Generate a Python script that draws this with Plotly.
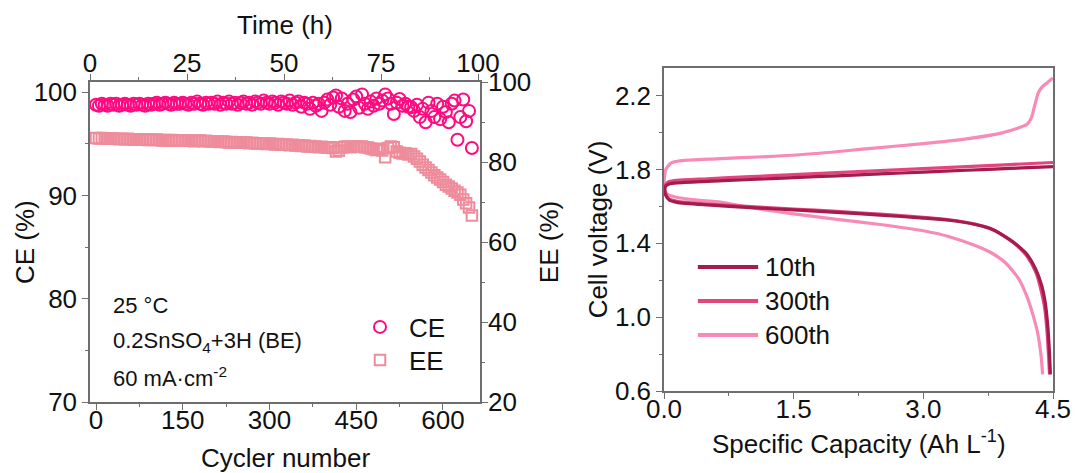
import plotly.graph_objects as go

# ---------------- Left panel: cycling efficiency ----------------
cycles = list(range(0, 655, 5))

ce_values = [
    98.8, 98.7, 98.9, 98.8, 98.7, 98.9, 98.8, 98.9, 98.7, 98.8,
    98.9, 98.8, 98.7, 98.9, 98.8, 98.9, 98.8, 98.7, 98.9, 98.8,
    98.9, 99.0, 98.8, 98.9, 99.0, 98.9, 98.8, 99.0, 98.9, 98.9,
    99.0, 98.9, 98.8, 99.0, 98.9, 99.1, 98.9, 98.8, 99.0, 98.9,
    99.0, 98.9, 99.1, 98.8, 99.0, 98.9, 99.1, 98.9, 99.0, 98.8,
    99.0, 99.1, 98.9, 99.0, 98.8, 99.1, 99.0, 98.9, 99.2, 99.0,
    98.9, 99.1, 99.0, 98.8, 99.1, 99.0, 98.9, 99.2, 98.8, 99.0,
    99.1, 98.6, 99.0, 98.9, 98.4, 99.0, 98.7, 98.9, 98.2, 99.0,
    99.3, 98.8, 99.5, 99.7, 98.6, 99.4, 98.2, 98.9, 98.1, 99.3,
    99.6, 98.5, 99.8, 98.9, 98.4, 99.1, 98.7, 99.4, 98.9, 99.2,
    99.8, 99.4, 98.9, 97.9, 99.0, 99.35, 98.7, 98.9, 98.6, 98.55,
    98.2, 98.8, 97.6, 98.4, 97.1, 99.0, 98.2, 97.6, 98.9, 97.4,
    98.6, 98.1, 97.1, 98.9, 99.2, 95.4, 97.6, 99.3, 97.2, 98.2,
    94.6,
]

ee_values = [
    86.0, 85.9, 86.0, 85.9, 85.8, 85.9, 85.8, 85.8, 85.7, 85.8,
    85.7, 85.8, 85.7, 85.6, 85.7, 85.6, 85.7, 85.6, 85.5, 85.6,
    85.5, 85.6, 85.5, 85.4, 85.5, 85.4, 85.5, 85.4, 85.3, 85.4,
    85.4, 85.3, 85.4, 85.3, 85.2, 85.3, 85.4, 85.2, 85.3, 85.2,
    85.1, 85.2, 85.1, 85.0, 85.1, 85.0, 84.9, 85.0, 84.9, 84.8,
    84.9, 84.8, 84.9, 84.7, 84.8, 84.7, 84.6, 84.7, 84.6, 84.5,
    84.6, 84.5, 84.4, 84.5, 84.3, 84.4, 84.3, 84.2, 84.3, 84.1,
    84.2, 84.0, 84.1, 83.9, 84.0, 83.8, 83.9, 83.7, 83.8, 83.7,
    83.6, 83.7, 83.5, 82.6, 82.9, 83.6, 83.8, 83.9, 83.7, 83.8,
    83.9, 83.8, 83.9, 83.7, 83.6, 83.4, 83.2, 83.0, 83.3, 82.9,
    81.2, 83.5, 83.9, 83.7, 82.6, 82.3, 82.1, 82.2, 81.9, 82.0,
    81.4, 80.8, 80.1, 79.3, 78.6, 78.0, 77.4, 76.7, 76.1, 75.6,
    75.0, 74.3, 73.9, 73.4, 72.8, 72.4, 71.8, 70.6, 69.7, 68.6,
    66.6,
]

cycle_ticks = [0, 150, 300, 450, 600]
time_ticks = [0, 25, 50, 75, 100]
ce_ticks = [70, 80, 90, 100]
ee_ticks = [20, 40, 60, 80, 100]

# ---------------- Right panel: charge / discharge profiles ----------------
cap_10_chg = [0.0, 0.02, 0.06, 0.15, 0.5, 1.0, 1.5, 2.0, 2.5, 3.0, 3.5, 4.0, 4.5]
v_10_chg = [1.68, 1.71, 1.722, 1.728, 1.736, 1.746, 1.756, 1.766, 1.776, 1.786, 1.796, 1.806, 1.816]
cap_10_dis = [0.0, 0.02, 0.06, 0.15, 0.5, 1.0, 1.5, 2.0, 2.5, 3.0, 3.3, 3.6, 3.8, 4.0,
              4.1, 4.2, 4.3, 4.37, 4.41, 4.44, 4.46, 4.47]
v_10_dis = [1.70, 1.66, 1.635, 1.622, 1.608, 1.594, 1.581, 1.568, 1.553, 1.537, 1.525, 1.502,
            1.475, 1.42, 1.385, 1.34, 1.26, 1.17, 1.08, 0.95, 0.80, 0.69]

cap_300_chg = [0.0, 0.02, 0.06, 0.15, 0.5, 1.0, 1.5, 2.0, 2.5, 3.0, 3.5, 4.0, 4.5]
v_300_chg = [1.69, 1.72, 1.735, 1.742, 1.750, 1.761, 1.772, 1.783, 1.794, 1.805, 1.816, 1.827, 1.838]
cap_300_dis = [0.0, 0.02, 0.06, 0.15, 0.5, 1.0, 1.5, 2.0, 2.5, 3.0, 3.3, 3.6, 3.8, 4.0,
               4.1, 4.2, 4.3, 4.36, 4.40, 4.43, 4.45, 4.46]
v_300_dis = [1.71, 1.67, 1.64, 1.628, 1.613, 1.599, 1.586, 1.573, 1.558, 1.541, 1.528, 1.504,
             1.475, 1.418, 1.38, 1.33, 1.245, 1.15, 1.06, 0.93, 0.78, 0.69]

cap_600_chg = [0.0, 0.02, 0.08, 0.2, 0.6, 1.2, 1.8, 2.4, 3.0, 3.5, 3.9, 4.1, 4.2, 4.25,
               4.29, 4.33, 4.37, 4.42, 4.47, 4.5]
v_600_chg = [1.72, 1.80, 1.835, 1.848, 1.858, 1.870, 1.888, 1.915, 1.940, 1.966, 1.997, 2.025,
             2.045, 2.08, 2.15, 2.215, 2.245, 2.265, 2.285, 2.295]
cap_600_dis = [0.0, 0.03, 0.1, 0.3, 0.7, 1.0, 1.5, 2.0, 2.5, 3.0, 3.3, 3.6, 3.8, 3.95,
               4.1, 4.2, 4.27, 4.32, 4.36, 4.38]
v_600_dis = [1.71, 1.67, 1.655, 1.638, 1.620, 1.594, 1.560, 1.530, 1.502, 1.468, 1.436, 1.388,
             1.345, 1.295, 1.21, 1.11, 1.01, 0.92, 0.80, 0.69]

cycle_labels = ["10th", "300th", "600th"]
cap_ticks = [0.0, 1.5, 3.0, 4.5]
volt_ticks = [0.6, 1.0, 1.4, 1.8, 2.2]

# ---------------- Styling ----------------
FONT = "Liberation Sans, Arial, Helvetica, sans-serif"
TXT = "#111111"
AX = "#6e6e6e"
CE_COLOR = "#ff0a80"
EE_COLOR = "#ef8c9b"
CURVE_COLORS = ["#a51b4e", "#e2467c", "#f78ab7"]
FS = 26
W, H = 1077, 473

fig = go.Figure()

fig.add_trace(go.Scatter(
    x=cycles, y=ce_values, name="CE", mode="markers",
    marker=dict(symbol="circle-open", size=12, color=CE_COLOR, line=dict(width=2, color=CE_COLOR)),
    xaxis="x", yaxis="y", legend="legend",
))
fig.add_trace(go.Scatter(
    x=cycles, y=ee_values, name="EE", mode="markers",
    marker=dict(symbol="square-open", size=10.5, color=EE_COLOR, line=dict(width=2, color=EE_COLOR)),
    xaxis="x", yaxis="y2", legend="legend2",
))
# carrier for the top time axis
fig.add_trace(go.Scatter(x=[], y=[], xaxis="x2", yaxis="y", showlegend=False, hoverinfo="skip"))

profiles = [
    (cap_10_chg, v_10_chg, cap_10_dis, v_10_dis),
    (cap_300_chg, v_300_chg, cap_300_dis, v_300_dis),
    (cap_600_chg, v_600_chg, cap_600_dis, v_600_dis),
]
# draw 600th first so the darker curves sit on top
for idx in [2, 1, 0]:
    c_chg, v_chg, c_dis, v_dis = profiles[idx]
    for cx, vy in [(c_chg, v_chg), (c_dis, v_dis)]:
        fig.add_trace(go.Scatter(
            x=cx, y=vy, mode="lines", name=cycle_labels[idx], showlegend=False,
            line=dict(color=CURVE_COLORS[idx], width=3.2, shape="spline", smoothing=0.6),
            xaxis="x3", yaxis="y3",
        ))

# legend for the voltage profiles, drawn inside the right panel
leg_y = [0.384, 0.279, 0.173]
for lbl, col, yy in zip(cycle_labels, CURVE_COLORS, leg_y):
    fig.add_shape(type="line", xref="x3 domain", yref="y3 domain",
                  x0=0.087, x1=0.242, y0=yy, y1=yy,
                  line=dict(color=col, width=4))
    fig.add_annotation(text=lbl, xref="x3 domain", yref="y3 domain", x=0.255, y=yy,
                       xanchor="left", yanchor="middle", showarrow=False,
                       font=dict(size=FS, color=TXT, family=FONT))

# condition notes in the left panel
notes = ["25 °C", "0.2SnSO<sub>4</sub>+3H (BE)", "60 mA·cm<sup>-2</sup>"]
note_y = [0.355, 0.277, 0.203]
for t, yy in zip(notes, note_y):
    fig.add_annotation(text=t, xref="paper", yref="paper", x=0.1035, y=yy,
                       xanchor="left", yanchor="middle", showarrow=False,
                       font=dict(size=22, color=TXT, family=FONT))

# axis titles placed explicitly
title_font = dict(size=FS, color=TXT, family=FONT)
fig.add_annotation(text="CE (%)", xref="paper", yref="paper", x=25 / W, y=1 - 242 / H,
                   xanchor="center", yanchor="middle", textangle=-90, showarrow=False,
                   font=title_font)
fig.add_annotation(text="Cycler number", xref="x domain", yref="paper", x=0.5, y=1 - 458 / H,
                   xanchor="center", yanchor="middle", showarrow=False, font=title_font)
fig.add_annotation(text="Specific Capacity (Ah L<sup>-1</sup>)", xref="x3 domain", yref="paper",
                   x=0.5, y=1 - 442 / H, xanchor="center", yanchor="middle", showarrow=False,
                   font=title_font)

tickfont = dict(size=FS, color=TXT, family=FONT)
axis_common = dict(showline=True, linecolor=AX, linewidth=1.5, ticks="outside",
                   ticklen=6, tickwidth=1.3, tickcolor=AX, showgrid=False,
                   zeroline=False, tickfont=tickfont, automargin=False)
minor_common = dict(ticks="outside", ticklen=3.5, tickwidth=1.2, tickcolor=AX, showgrid=False)

L0, L1 = 90 / W, 480 / W
LB, LT = 1 - 402 / H, 1 - 82 / H
R0, R1 = 664 / W, 1053 / W
RB, RT = 1 - 391 / H, 1 - 68 / H

legend_common = dict(xanchor="left", yanchor="middle", bgcolor="rgba(0,0,0,0)",
                     borderwidth=0, font=dict(size=FS, color=TXT, family=FONT),
                     itemwidth=48, tracegroupgap=0)

fig.update_layout(
    width=W, height=H,
    margin=dict(l=0, r=0, t=0, b=0, autoexpand=False),
    paper_bgcolor="white", plot_bgcolor="white",
    font=dict(family=FONT, color=TXT),
    showlegend=True,
    xaxis=dict(domain=[L0, L1], range=[-10.4, 664], anchor="y",
               tickvals=cycle_ticks, minor=dict(dtick=75, tick0=0, **minor_common),
               ticklabelstandoff=-12, **axis_common),
    xaxis2=dict(overlaying="x", side="top", anchor="y", range=[0, 100.5],
                tickvals=time_ticks, minor=dict(dtick=12.5, tick0=0, **minor_common),
                ticklabelstandoff=-8,
                title=dict(text="Time (h)", font=title_font, standoff=6),
                **axis_common),
    yaxis=dict(domain=[LB, LT], range=[70, 101], anchor="x",
               tickvals=ce_ticks, minor=dict(dtick=5, tick0=70, **minor_common),
               **axis_common),
    yaxis2=dict(overlaying="y", side="right", anchor="x", range=[20, 100],
                tickvals=ee_ticks, minor=dict(dtick=10, tick0=20, **minor_common),
                ticklabelstandoff=-5,
                title=dict(text="EE (%)", font=title_font, standoff=9),
                **axis_common),
    xaxis3=dict(domain=[R0, R1], range=[0, 4.5], anchor="y3",
                tickvals=cap_ticks, tickformat=".1f", mirror=True,
                minor=dict(dtick=0.75, tick0=0, **minor_common),
                ticklabelstandoff=-12, **axis_common),
    yaxis3=dict(domain=[RB, RT], range=[0.6, 2.35], anchor="x3",
                tickvals=volt_ticks, tickformat=".1f", mirror=True,
                minor=dict(tickvals=[0.8, 1.2, 1.6, 2.0], **minor_common),
                title=dict(text="Cell voltage (V)", font=title_font, standoff=0),
                **axis_common),
    legend=dict(x=351 / W, y=1 - 327 / H, **legend_common),
    legend2=dict(x=351 / W, y=1 - 360 / H, **legend_common),
)

fig.write_html("out.html")
